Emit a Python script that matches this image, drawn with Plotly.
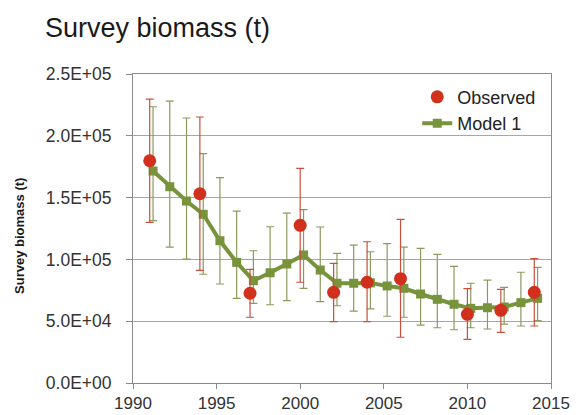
import plotly.graph_objects as go

# ---- data ----
obs_years = [1991, 1994, 1997, 2000, 2002, 2004, 2006, 2010, 2012, 2014]
obs_vals = [179800, 153100, 72600, 127600, 73400, 81500, 84400, 55600, 58800, 73400]
obs_hi = [229700, 215200, 92000, 173700, 96800, 114300, 132400, 76300, 75800, 100600]
obs_lo = [130000, 91200, 53200, 81500, 49600, 49600, 37000, 35300, 41000, 46100]

model_years = list(range(1991, 2015))
model_vals = [171500, 158800, 147200, 136500, 115100, 97600, 82800, 89200, 96300, 103600,
              91400, 80700, 80700, 81000, 78500, 76600, 72000, 67700, 63700, 60400,
              60900, 61500, 65000, 68500]
model_hi = [223500, 228100, 214400, 185500, 166100, 139100, 107000, 126400, 137500, 140200,
            126200, 104900, 111600, 106200, 112700, 110000, 109000, 104100, 94400, 80700,
            83300, 77400, 89600, 93600]
model_lo = [131300, 110000, 100300, 88000, 80100, 68500, 64500, 63300, 66700, 76600,
            65800, 62500, 58200, 59900, 54000, 53200, 46900, 44700, 43100, 44700,
            43700, 47700, 46100, 50400]

y_tickvals = [0, 50000, 100000, 150000, 200000, 250000]
y_ticktext = ["0.0E+00", "5.0E+04", "1.0E+05", "1.5E+05", "2.0E+05", "2.5E+05"]
x_tickvals = [1990, 1995, 2000, 2005, 2010, 2015]

MODEL_SHIFT = 0.2  # model series drawn slightly right of the year

fig = go.Figure()

fig.add_trace(go.Scatter(
    x=[y + MODEL_SHIFT for y in model_years], y=model_vals,
    mode="lines+markers", name="Model 1",
    line=dict(color="#77933c", width=4),
    marker=dict(symbol="square", size=9, color="#77933c"),
    error_y=dict(type="data", symmetric=False,
                 array=[h - v for h, v in zip(model_hi, model_vals)],
                 arrayminus=[v - l for v, l in zip(model_vals, model_lo)],
                 color="#8c9a5c", thickness=1.2, width=4),
))

fig.add_trace(go.Scatter(
    x=obs_years, y=obs_vals,
    mode="markers", name="Observed",
    marker=dict(symbol="circle", size=13, color="#d0301c"),
    error_y=dict(type="data", symmetric=False,
                 array=[h - v for h, v in zip(obs_hi, obs_vals)],
                 arrayminus=[v - l for v, l in zip(obs_vals, obs_lo)],
                 color="#c9503c", thickness=1.2, width=4),
))

fig.update_layout(
    width=585, height=415,
    margin=dict(l=133, r=34, t=74, b=32, autoexpand=False),
    paper_bgcolor="white", plot_bgcolor="white",
    font=dict(family="Liberation Sans, Arial, sans-serif", color="#333333", size=16),
    showlegend=True,
    legend=dict(x=0.68, y=0.985, xanchor="left", yanchor="top",
                traceorder="reversed", bgcolor="rgba(0,0,0,0)",
                font=dict(size=18, color="#222222"), tracegroupgap=0),
    title=dict(text="Survey biomass (t)", x=45 / 585, xanchor="left", xref="container",
               y=1 - 28 / 415, yanchor="middle", yref="container",
               font=dict(size=27, color="#1a1a1a")),
)

fig.update_xaxes(range=[1990, 2015], tickvals=x_tickvals, showgrid=False, automargin=False,
                 showline=True, linecolor="#8a8a8a", linewidth=1, mirror=True,
                 ticks="outside", ticklen=5, tickcolor="#8a8a8a", ticklabelstandoff=0,
                 tickfont=dict(size=17, color="#333333"), zeroline=False)
fig.update_yaxes(range=[0, 250000], tickvals=y_tickvals, ticktext=y_ticktext,
                 showgrid=True, gridcolor="#a6a6a6", gridwidth=1, automargin=False,
                 showline=True, linecolor="#8a8a8a", linewidth=1, mirror=True,
                 ticks="outside", ticklen=6, tickcolor="#8a8a8a", ticklabelstandoff=11,
                 tickfont=dict(size=17.5, color="#333333"), zeroline=False)

fig.add_annotation(text="<b>Survey biomass (t)</b>", textangle=-90,
                   xref="paper", yref="paper", x=(20 - 133) / 418, y=0.476,
                   xanchor="center", yanchor="middle",
                   showarrow=False, font=dict(size=13, color="#1a1a1a"))

fig.write_html("out.html", config={"displayModeBar": False},
               post_script="document.body.style.margin='0';document.body.style.overflow='hidden';")
